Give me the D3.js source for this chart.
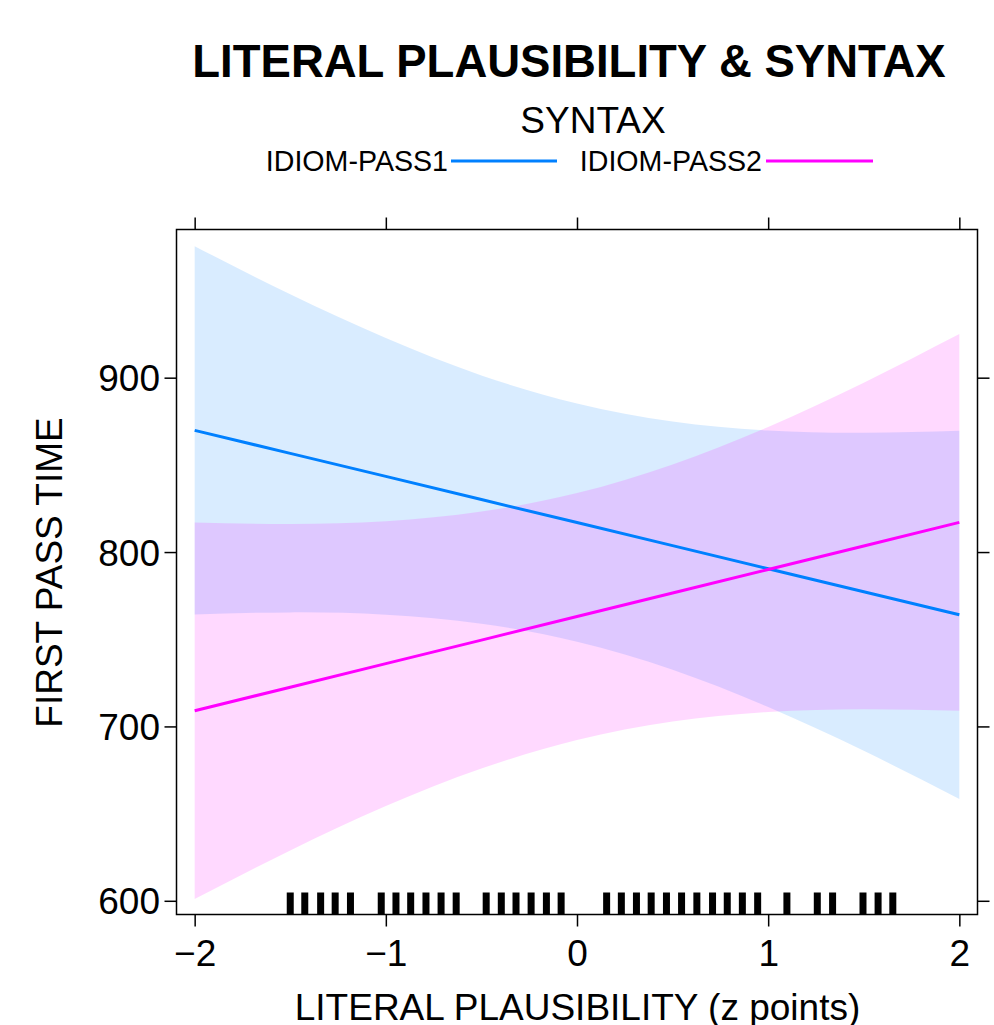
<!DOCTYPE html>
<html>
<head>
<meta charset="utf-8">
<script src="https://cdn.jsdelivr.net/npm/d3@7"></script>
<style>
  html, body { margin: 0; padding: 0; background: #ffffff; }
  svg { display: block; }
  text { font-family: "Liberation Sans", Arial, Helvetica, sans-serif; fill: #000; }
</style>
</head>
<body>
<script>
// ---------------- data ----------------
const xGrid = [-2, -1.5, -1, -0.5, 0, 0.5, 1, 1.5, 2];
const pass1Fit   = [869.8, 856.6, 843.4, 830.1, 816.9, 803.7, 790.4, 777.2, 764.0];
const pass1Upper = [975.4, 947.8, 922.7, 901.3, 885.2, 874.9, 869.7, 868.4, 869.6];
const pass1Lower = [764.2, 765.4, 764.1, 758.9, 748.6, 732.5, 711.1, 686.0, 658.4];
const pass2Fit   = [709.0, 722.5, 736.0, 749.5, 763.0, 776.5, 790.0, 803.5, 817.0];
const pass2Upper = [817.0, 816.1, 817.7, 823.2, 833.8, 850.2, 871.7, 897.1, 925.0];
const pass2Lower = [601.0, 628.9, 654.3, 675.8, 692.2, 702.8, 708.3, 709.9, 709.0];
const rugValues = [-1.500, -1.424, -1.341, -1.265, -1.185,
                   -1.024, -0.947, -0.870, -0.790, -0.711, -0.632,
                   -0.475, -0.396, -0.319, -0.240, -0.160, -0.083,
                   0.155, 0.232, 0.311, 0.388, 0.468, 0.547, 0.627, 0.709, 0.786, 0.865, 0.945,
                   1.098, 1.257, 1.337, 1.496, 1.575, 1.652];
const seriesNames = ["IDIOM-PASS1", "IDIOM-PASS2"];
const xTicks = [-2, -1, 0, 1, 2];
const yTicks = [600, 700, 800, 900];
const titleText = "LITERAL PLAUSIBILITY & SYNTAX";
const legendTitle = "SYNTAX";
const xLabel = "LITERAL PLAUSIBILITY (z points)";
const yLabel = "FIRST PASS TIME";

// ---------------- layout ----------------
const W = 994, H = 1025;
const panel = { left: 176.5, right: 977.5, top: 229.5, bottom: 914.5 };
const lineColors = ["#0080FF", "#FF00FF"];
const bandColors = ["rgba(0,128,255,0.15)", "rgba(255,0,255,0.15)"];

const svg = d3.select("body").append("svg").attr("width", W).attr("height", H);

const x = d3.scaleLinear().domain([-2.095, 2.095]).range([panel.left, panel.right]);
const y = d3.scaleLinear().domain([592.14, 984.98]).range([panel.bottom, panel.top]);

const series = [
  { name: seriesNames[0], fit: pass1Fit, upper: pass1Upper, lower: pass1Lower },
  { name: seriesNames[1], fit: pass2Fit, upper: pass2Upper, lower: pass2Lower }
];

const clipId = "panelClip";
svg.append("clipPath").attr("id", clipId).append("rect")
  .attr("x", panel.left).attr("y", panel.top)
  .attr("width", panel.right - panel.left).attr("height", panel.bottom - panel.top);

const plot = svg.append("g").attr("clip-path", `url(#${clipId})`);

const area = d3.area()
  .x((d, i) => x(xGrid[i]))
  .y0(d => y(d[0]))
  .y1(d => y(d[1]))
  .curve(d3.curveNatural);

series.forEach((s, k) => {
  const pts = xGrid.map((_, i) => [s.lower[i], s.upper[i]]);
  plot.append("path").datum(pts).attr("d", area).attr("fill", bandColors[k]).attr("stroke", "none");
});

const line = d3.line().x((d, i) => x(xGrid[i])).y(d => y(d));
series.forEach((s, k) => {
  plot.append("path").datum(s.fit).attr("d", line)
    .attr("fill", "none").attr("stroke", lineColors[k]).attr("stroke-width", 3);
});

// rug
plot.append("g").selectAll("line").data(rugValues).join("line")
  .attr("x1", d => x(d)).attr("x2", d => x(d))
  .attr("y1", panel.bottom).attr("y2", panel.bottom - 22)
  .attr("stroke", "#000").attr("stroke-width", 7);

// panel border
svg.append("rect")
  .attr("x", panel.left).attr("y", panel.top)
  .attr("width", panel.right - panel.left).attr("height", panel.bottom - panel.top)
  .attr("fill", "none").attr("stroke", "#000").attr("stroke-width", 1.5);

// axes
const tickLen = 12;
const tickFont = 37;
const axisBottom = d3.axisBottom(x).tickValues(xTicks).tickSize(tickLen).tickPadding(6)
  .tickFormat(d => d < 0 ? "\u2212" + Math.abs(d) : String(d));
const gB = svg.append("g").attr("transform", `translate(0,${panel.bottom})`).call(axisBottom);
gB.select(".domain").remove();
gB.selectAll("line").attr("stroke", "#000").attr("stroke-width", 1.5);
gB.selectAll("text").attr("font-size", tickFont).attr("dy", null).attr("y", 51)
  .style("font-family", "'Liberation Sans', Arial, sans-serif");

const axisTop = d3.axisTop(x).tickValues(xTicks).tickSize(tickLen).tickFormat("");
const gT = svg.append("g").attr("transform", `translate(0,${panel.top})`).call(axisTop);
gT.select(".domain").remove();
gT.selectAll("line").attr("stroke", "#000").attr("stroke-width", 1.5);

const axisLeft = d3.axisLeft(y).tickValues(yTicks).tickSize(tickLen).tickPadding(6);
const gL = svg.append("g").attr("transform", `translate(${panel.left},0)`).call(axisLeft);
gL.select(".domain").remove();
gL.selectAll("line").attr("stroke", "#000").attr("stroke-width", 1.5);
gL.selectAll("text").attr("font-size", tickFont).attr("x", -16.5).attr("dy", "0.35em")
  .style("font-family", "'Liberation Sans', Arial, sans-serif");

const axisRight = d3.axisRight(y).tickValues(yTicks).tickSize(tickLen).tickFormat("");
const gR = svg.append("g").attr("transform", `translate(${panel.right},0)`).call(axisRight);
gR.select(".domain").remove();
gR.selectAll("line").attr("stroke", "#000").attr("stroke-width", 1.5);

// axis labels
svg.append("text").attr("x", 577.5).attr("y", 1020)
  .attr("text-anchor", "middle").attr("font-size", 37).text(xLabel);
svg.append("text").attr("transform", `translate(62,572.5) rotate(-90)`)
  .attr("text-anchor", "middle").attr("font-size", 37).text(yLabel);

// title
svg.append("text").attr("x", 569).attr("y", 77).attr("text-anchor", "middle")
  .attr("font-size", 45.5).attr("font-weight", "bold").text(titleText);

// legend
svg.append("text").attr("x", 593).attr("y", 133).attr("text-anchor", "middle")
  .attr("font-size", 37).text(legendTitle);
const legendItems = [
  { textEnd: 448, x1: 451, x2: 557 },
  { textEnd: 762, x1: 766, x2: 873 }
];
legendItems.forEach((it, k) => {
  svg.append("text").attr("x", it.textEnd).attr("y", 171).attr("text-anchor", "end")
    .attr("font-size", 28.6).text(seriesNames[k]);
  svg.append("line").attr("x1", it.x1).attr("x2", it.x2).attr("y1", 161).attr("y2", 161)
    .attr("stroke", lineColors[k]).attr("stroke-width", 3);
});
</script>
</body>
</html>
